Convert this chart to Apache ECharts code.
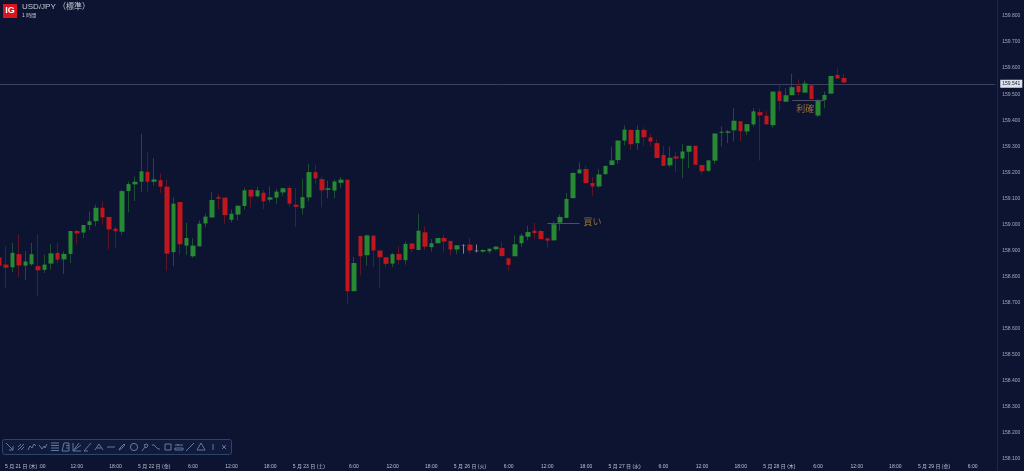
<!DOCTYPE html>
<html>
<head>
<meta charset="utf-8">
<title>USD/JPY</title>
<style>
html,body{margin:0;padding:0;background:#0d1431;}
#chart{width:1024px;height:471px;}
</style>
<script src="https://cdn.jsdelivr.net/npm/echarts@6/dist/echarts.min.js"></script>
</head>
<body>
<div id="chart"></div>
<script>
// Hourly candles: [open, close, low, high]
const candles = [
[158.873,158.842,158.837,158.878],[158.846,158.834,158.757,158.916],[158.836,158.891,158.817,158.929],[158.886,158.843,158.798,158.961],
[158.842,158.858,158.786,158.897],[158.847,158.886,158.842,158.929],[158.840,158.824,158.725,158.961],[158.826,158.846,158.814,158.884],
[158.850,158.889,158.827,158.925],[158.891,158.865,158.852,158.929],[158.866,158.887,158.810,158.897],[158.887,158.975,158.852,158.975],
[158.975,158.966,158.923,158.980],[158.969,158.998,158.948,158.998],[158.998,159.012,158.978,159.050],[159.013,159.064,158.993,159.076],
[159.064,159.027,158.999,159.089],[159.029,158.981,158.906,159.029],[158.984,158.974,158.911,158.993],[158.972,159.128,158.960,159.133],
[159.128,159.155,159.046,159.165],[159.154,159.164,159.090,159.184],[159.164,159.204,159.123,159.347],[159.202,159.164,159.126,159.278],
[159.164,159.173,159.149,159.255],[159.170,159.145,159.121,159.197],[159.145,158.888,158.823,159.172],[158.894,159.080,158.840,159.104],
[159.086,158.924,158.884,159.086],[158.919,158.948,158.884,159.006],[158.878,158.919,158.872,158.948],[158.916,159.003,158.916,159.016],
[159.004,159.030,158.989,159.041],[159.027,159.094,159.025,159.124],[159.105,159.099,159.057,159.118],[159.103,159.036,159.003,159.103],
[159.018,159.041,159.008,159.057],[159.038,159.072,159.016,159.072],[159.071,159.131,159.057,159.141],[159.133,159.107,159.066,159.133],
[159.108,159.131,159.104,159.144],[159.122,159.089,159.059,159.133],[159.095,159.104,159.085,159.146],[159.103,159.126,159.080,159.136],
[159.123,159.139,159.110,159.142],[159.140,159.080,159.067,159.149],[159.076,159.068,158.990,159.140],[159.062,159.105,159.038,159.176],
[159.104,159.201,159.089,159.233],[159.201,159.177,159.156,159.229],[159.174,159.131,159.066,159.184],[159.133,159.139,159.101,159.169],
[159.130,159.165,159.101,159.172],[159.160,159.172,159.140,159.182],[159.172,158.744,158.697,159.172],[158.744,158.852,158.744,158.875],
[158.956,158.878,158.805,158.956],[158.882,158.958,158.842,158.961],[158.957,158.900,158.837,158.961],[158.900,158.874,158.757,158.900],
[158.874,158.849,158.836,158.874],[158.850,158.886,158.836,158.891],[158.887,158.864,158.849,158.916],[158.863,158.925,158.846,158.935],
[158.927,158.906,158.893,158.927],[158.902,158.976,158.902,159.040],[158.970,158.915,158.901,158.993],[158.913,158.928,158.896,158.944],
[158.928,158.948,158.927,158.948],[158.948,158.934,158.893,158.961],[158.937,158.904,158.881,158.937],[158.904,158.920,158.886,158.920],
[158.919,158.921,158.888,158.924],[158.923,158.900,158.887,158.948],[158.897,158.900,158.893,158.923],[158.896,158.902,158.891,158.906],
[158.897,158.907,158.888,158.907],[158.905,158.915,158.900,158.915],[158.910,158.879,158.875,158.933],[158.870,158.845,158.823,158.870],
[158.878,158.924,158.878,158.958],[158.928,158.957,158.914,158.965],[158.953,158.971,158.939,158.995],[158.976,158.967,158.946,159.006],
[158.975,158.944,158.944,158.980],[158.947,158.938,158.911,158.947],[158.939,159.001,158.939,159.012],[159.007,159.029,158.976,159.038],
[159.025,159.098,159.025,159.121],[159.101,159.198,159.101,159.198],[159.196,159.211,159.196,159.239],[159.213,159.159,159.159,159.225],
[159.159,159.146,159.110,159.182],[159.146,159.192,159.140,159.213],[159.193,159.225,159.191,159.225],[159.228,159.246,159.228,159.299],
[159.247,159.322,159.232,159.322],[159.322,159.364,159.304,159.380],[159.363,159.308,159.287,159.363],[159.312,159.363,159.287,159.380],
[159.363,159.335,159.302,159.373],[159.334,159.318,159.302,159.348],[159.312,159.255,159.255,159.327],[159.267,159.225,159.225,159.302],
[159.227,159.256,159.220,159.299],[159.261,159.253,159.201,159.278],[159.253,159.280,159.178,159.308],[159.279,159.302,159.216,159.302],
[159.302,159.229,159.229,159.302],[159.228,159.204,159.191,159.228],[159.206,159.246,159.201,159.246],[159.245,159.349,159.232,159.349],
[159.352,159.356,159.299,159.376],[159.352,159.357,159.312,159.363],[159.361,159.398,159.319,159.446],[159.396,159.358,159.319,159.396],
[159.357,159.385,159.344,159.385],[159.384,159.434,159.376,159.446],[159.431,159.419,159.245,159.446],[159.417,159.384,159.384,159.437],
[159.381,159.510,159.372,159.510],[159.511,159.474,159.436,159.539],[159.471,159.496,159.471,159.523],[159.496,159.527,159.496,159.578],
[159.532,159.508,159.495,159.557],[159.506,159.541,159.506,159.552],[159.534,159.481,159.481,159.534],[159.418,159.478,159.412,159.481],
[159.478,159.497,159.446,159.510],[159.502,159.570,159.502,159.570],[159.574,159.560,159.560,159.600],[159.562,159.545,159.542,159.578]
];

// Slots with unchanged price shown as neutral crosses
const neutralSlots = [72, 74];

// Time axis: hour slots, with a label on some of them
const slotCount = 155;
const tickSlots = [4, 12, 18, 24, 30, 36, 42, 48, 55, 61, 67, 73, 79, 85, 91, 97, 103, 109, 115, 121, 127, 133, 139, 145, 151];
const tickTexts = ['5 月 21 日 (木) :00', '12:00', '18:00', '5 月 22 日 (金)', '6:00', '12:00', '18:00', '5 月 23 日 (土)', '6:00', '12:00', '18:00', '5 月 26 日 (火)', '6:00', '12:00', '18:00', '5 月 27 日 (水)', '6:00', '12:00', '18:00', '5 月 28 日 (木)', '6:00', '12:00', '18:00', '5 月 29 日 (金)', '6:00'];
const categories = Array.from({ length: slotCount }, (_, i) => 'slot' + i);

// Price scale and current price
const priceMin = 158.1;
const priceMax = 159.8;
const priceStep = 0.1;
const lastPrice = 159.541;

// Trade notes: text, level, start and end slot, text slot and level
const buyNote = { text: '買い', level: 159.006, from: 85, to: 90, textSlot: 92, textLevel: 159.007 };
const exitNote = { text: '利確', level: 159.478, from: 123, to: 128, textSlot: 125, textLevel: 159.44 };

const C = {
  bg: '#0d1431', up: '#278a32', down: '#c0161e',
  upWick: '#1d4f33', downWick: '#5c1626', neutral: '#7f8797',
  note: '#96703a', noteLine: '#4a4f64', priceLine: '#3a435d',
  axisLine: '#1d2747', yText: '#a4abbb', xText: '#bcc1cd', head: '#c6cad4',
  tool: '#5f7ba0', toolBox: '#2c4468', toolBg: '#111a3a', ig: '#d8141f'
};
const FONT = '"Liberation Sans","Noto Sans CJK JP",sans-serif';

const isNeutral = i => neutralSlots.indexOf(i) >= 0;

// Two layers: full range in dim wick colours, then the bodies on top
const wickData = candles.map((d, i) => isNeutral(i)
  ? { value: d, itemStyle: { color: C.neutral, color0: C.neutral, borderColor: C.neutral, borderColor0: C.neutral } }
  : d);
const bodyData = candles.map((d, i) => {
  const v = [d[0], d[1], Math.min(d[0], d[1]), Math.max(d[0], d[1])];
  return isNeutral(i)
    ? { value: v, itemStyle: { color: C.neutral, color0: C.neutral, borderColor: C.neutral, borderColor0: C.neutral } }
    : v;
});

const noteMark = n => ([[
  { coord: [n.from, n.level] },
  { coord: [n.to, n.level] }
]]);
const noteText = n => ({
  coord: [n.textSlot, n.textLevel], symbolSize: 0,
  label: { show: true, position: 'inside', formatter: n.text, color: C.note, fontSize: 9, fontFamily: FONT }
});

// Drawing toolbar icons: strokes of each icon around its own centre
const toolIcons = [
  [[[-4,-4],[3,3]], [[3,-1],[3,3],[-1,3]]],
  [[[-3,3],[3,-3]], [[-3,0],[0,-3]], [[0,3],[3,0]]],
  [[[-4,3],[-2,-1],[0,1],[2,-3],[4,-1]]],
  [[[-4,-2],[-1,2],[1,-1],[2,1],[4,-3]]],
  [[[-4,-4],[4,-4]], [[-4,-1.5],[4,-1.5]], [[-4,1],[4,1]], [[-4,3.5],[4,3.5]]],
  [[[-2,-4],[3,-4],[3,4],[-4,4],[-2,-4]], [[0,-1.5],[3,-1.5]], [[0,1],[3,1]]],
  [[[-4,-4],[-4,4],[4,4]], [[-4,4],[4,-2]], [[-4,4],[2,-4]]],
  [[[-4,4],[3,-4]], [[-4,4],[0,4]]],
  [[[-4,3],[0,-3],[4,3]], [[-2,1],[2,1]]],
  [[[-4,0],[4,0]]],
  [[[-3,3],[-2,1],[2,-3],[3,-2],[-1,2],[-3,3]]],
  'ring',
  [[[-3,4],[0,0]], [[-1,-2],[2,-3],[3,-1],[1,1],[-1,-2]]],
  [[[-4,-2],[-2,-2],[2,2],[4,2]]],
  [[[-3,-3],[3,-3],[3,3],[-3,3],[-3,-3]]],
  [[[-4,-2],[4,-2]], [[-4,1],[4,1],[4,3],[-4,3],[-4,1]], [[-2,-3],[0,-1]]],
  [[[-4,4],[4,-4]]],
  [[[0,-4],[4,3],[-4,3],[0,-4]]],
  [[[0,-3],[0,3]]],
  [[[-2,-2],[2,2]], [[2,-2],[-2,2]]]
];
const toolCentres = [10, 21, 32, 43, 55, 66, 77, 88, 99, 111, 122, 134, 145, 156, 168, 179, 190, 201, 213, 224];

const toolGraphics = [];
toolIcons.forEach((icon, i) => {
  if (icon === 'ring') {
    toolGraphics.push({
      type: 'circle', x: toolCentres[i], y: 447, silent: true, z: 12,
      shape: { cx: 0, cy: 0, r: 3.6 }, style: { fill: 'none', stroke: C.tool, lineWidth: 1 }
    });
    return;
  }
  icon.forEach(stroke => toolGraphics.push({
    type: 'polyline', x: toolCentres[i], y: 447, silent: true, z: 12,
    shape: { points: stroke }, style: { fill: 'none', stroke: C.tool, lineWidth: 1 }
  }));
});

const chart = echarts.init(document.getElementById('chart'), null, { renderer: 'canvas' });
chart.setOption({
  animation: false,
  backgroundColor: C.bg,
  textStyle: { fontFamily: FONT },
  grid: { left: -3.72, top: 16, width: slotCount * 6.445, height: 443, outerBoundsMode: 'none' },
  xAxis: {
    type: 'category', data: categories, boundaryGap: true,
    axisLine: { show: false }, axisTick: { show: false }, splitLine: { show: false },
    axisLabel: {
      interval: 0, margin: 5.5, color: C.xText, fontSize: 5, fontFamily: FONT, hideOverlap: false,
      formatter: (v, i) => { const k = tickSlots.indexOf(i); return k >= 0 ? tickTexts[k] : ''; }
    }
  },
  yAxis: {
    type: 'value', position: 'right', min: priceMin, max: priceMax, interval: priceStep, scale: true,
    axisLine: { show: false }, axisTick: { show: false }, splitLine: { show: false },
    axisLabel: { margin: 7, color: C.yText, fontSize: 5, fontFamily: FONT, formatter: v => v.toFixed(3) }
  },
  series: [
    {
      type: 'candlestick', name: 'wicks', data: wickData, barWidth: 1, silent: true, z: 3,
      itemStyle: { color: C.upWick, color0: C.downWick, borderColor: C.upWick, borderColor0: C.downWick, borderWidth: 1 },
      markLine: {
        silent: true, symbol: 'none', animation: false, z: 2,
        lineStyle: { color: C.priceLine, width: 1, type: 'solid' },
        label: {
          show: true, position: 'end', distance: 5, formatter: lastPrice.toFixed(3), color: '#20263a',
          backgroundColor: '#dde2ec', padding: [2, 2, 1, 2], fontSize: 5, fontFamily: FONT
        },
        data: [{ yAxis: lastPrice }]
      }
    },
    {
      type: 'candlestick', name: 'bodies', data: bodyData, barWidth: 5, silent: true, z: 4,
      itemStyle: { color: C.up, color0: C.down, borderColor: C.up, borderColor0: C.down, borderWidth: 0 },
      markLine: {
        silent: true, symbol: 'none', animation: false,
        lineStyle: { color: C.noteLine, width: 1, type: 'solid' },
        label: { show: false },
        data: noteMark(buyNote).concat(noteMark(exitNote))
      },
      markPoint: {
        silent: true, animation: false, symbol: 'circle',
        data: [noteText(buyNote), noteText(exitNote)]
      }
    }
  ],
  graphic: [
    { type: 'line', silent: true, shape: { x1: 997.5, y1: 0, x2: 997.5, y2: 471 }, style: { stroke: C.axisLine, lineWidth: 1 } },
    { type: 'rect', silent: true, shape: { x: 3, y: 4, width: 14, height: 14 }, style: { fill: C.ig } },
    { type: 'text', silent: true, x: 10, y: 11, style: { text: 'IG', fill: '#ffffff', font: 'bold 9px ' + FONT, textAlign: 'center', textVerticalAlign: 'middle' } },
    { type: 'text', silent: true, x: 22, y: 7, style: { text: 'USD/JPY （標準）', fill: C.head, font: '8px ' + FONT, textVerticalAlign: 'middle' } },
    { type: 'text', silent: true, x: 22, y: 15.5, style: { text: '1 時間', fill: C.head, font: '5px ' + FONT, textVerticalAlign: 'middle' } },
    { type: 'rect', silent: true, z: 11, shape: { x: 2.5, y: 439.5, width: 229, height: 15, r: 2 }, style: { fill: C.toolBg, stroke: C.toolBox, lineWidth: 1 } }
  ].concat(toolGraphics)
});
</script>
</body>
</html>
